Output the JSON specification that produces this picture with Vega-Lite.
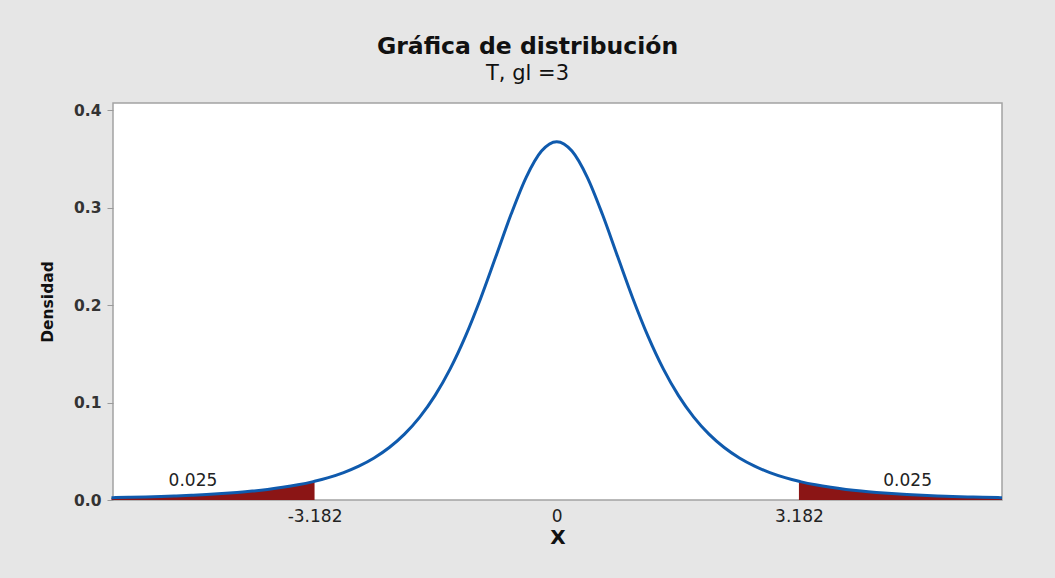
{
  "$schema": "https://vega.github.io/schema/vega-lite/v6.json",
  "width": 889,
  "height": 397,
  "autosize": {"type": "none"},
  "padding": {"left": 113, "top": 103, "right": 53, "bottom": 78},
  "background": "#e6e6e6",
  "config": {"view": {"fill": "white", "stroke": "#a3a3a3", "strokeWidth": 1.5}},
  "title": {
    "text": "Gráfica de distribución",
    "subtitle": "T, gl =3",
    "anchor": "middle",
    "dx": -30,
    "font": "DejaVu Sans",
    "fontSize": 23.5,
    "fontWeight": "bold",
    "color": "#111111",
    "subtitleFont": "DejaVu Sans",
    "subtitleFontSize": 21,
    "subtitleFontWeight": "normal",
    "subtitleColor": "#111111",
    "subtitlePadding": 5,
    "offset": 19
  },
  "datasets": {
    "curve": [
      {"x": -5.85, "d": 0.00239, "region": "left"},
      {"x": -5.8, "d": 0.00246, "region": "left"},
      {"x": -5.6, "d": 0.0028, "region": "left"},
      {"x": -5.4, "d": 0.0032, "region": "left"},
      {"x": -5.2, "d": 0.00367, "region": "left"},
      {"x": -5.0, "d": 0.00422, "region": "left"},
      {"x": -4.8, "d": 0.00488, "region": "left"},
      {"x": -4.6, "d": 0.00567, "region": "left"},
      {"x": -4.4, "d": 0.00662, "region": "left"},
      {"x": -4.2, "d": 0.00777, "region": "left"},
      {"x": -4.0, "d": 0.00916, "region": "left"},
      {"x": -3.8, "d": 0.01088, "region": "left"},
      {"x": -3.6, "d": 0.01299, "region": "left"},
      {"x": -3.4, "d": 0.0156, "region": "left"},
      {"x": -3.2, "d": 0.01887, "region": "left"},
      {"x": -3.182, "d": 0.0192, "region": "left"},
      {"x": -3.0, "d": 0.02297, "region": "centro"},
      {"x": -2.8, "d": 0.02815, "region": "centro"},
      {"x": -2.6, "d": 0.03473, "region": "centro"},
      {"x": -2.4, "d": 0.04311, "region": "centro"},
      {"x": -2.2, "d": 0.05382, "region": "centro"},
      {"x": -2.0, "d": 0.06751, "region": "centro"},
      {"x": -1.8, "d": 0.08496, "region": "centro"},
      {"x": -1.6, "d": 0.10701, "region": "centro"},
      {"x": -1.4, "d": 0.13446, "region": "centro"},
      {"x": -1.2, "d": 0.1678, "region": "centro"},
      {"x": -1.0, "d": 0.20675, "region": "centro"},
      {"x": -0.8, "d": 0.24967, "region": "centro"},
      {"x": -0.6, "d": 0.29301, "region": "centro"},
      {"x": -0.4, "d": 0.33127, "region": "centro"},
      {"x": -0.2, "d": 0.35794, "region": "centro"},
      {"x": 0.0, "d": 0.36755, "region": "centro"},
      {"x": 0.2, "d": 0.35794, "region": "centro"},
      {"x": 0.4, "d": 0.33127, "region": "centro"},
      {"x": 0.6, "d": 0.29301, "region": "centro"},
      {"x": 0.8, "d": 0.24967, "region": "centro"},
      {"x": 1.0, "d": 0.20675, "region": "centro"},
      {"x": 1.2, "d": 0.1678, "region": "centro"},
      {"x": 1.4, "d": 0.13446, "region": "centro"},
      {"x": 1.6, "d": 0.10701, "region": "centro"},
      {"x": 1.8, "d": 0.08496, "region": "centro"},
      {"x": 2.0, "d": 0.06751, "region": "centro"},
      {"x": 2.2, "d": 0.05382, "region": "centro"},
      {"x": 2.4, "d": 0.04311, "region": "centro"},
      {"x": 2.6, "d": 0.03473, "region": "centro"},
      {"x": 2.8, "d": 0.02815, "region": "centro"},
      {"x": 3.0, "d": 0.02297, "region": "centro"},
      {"x": 3.182, "d": 0.0192, "region": "right"},
      {"x": 3.2, "d": 0.01887, "region": "right"},
      {"x": 3.4, "d": 0.0156, "region": "right"},
      {"x": 3.6, "d": 0.01299, "region": "right"},
      {"x": 3.8, "d": 0.01088, "region": "right"},
      {"x": 4.0, "d": 0.00916, "region": "right"},
      {"x": 4.2, "d": 0.00777, "region": "right"},
      {"x": 4.4, "d": 0.00662, "region": "right"},
      {"x": 4.6, "d": 0.00567, "region": "right"},
      {"x": 4.8, "d": 0.00488, "region": "right"},
      {"x": 5.0, "d": 0.00422, "region": "right"},
      {"x": 5.2, "d": 0.00367, "region": "right"},
      {"x": 5.4, "d": 0.0032, "region": "right"},
      {"x": 5.6, "d": 0.0028, "region": "right"},
      {"x": 5.8, "d": 0.00246, "region": "right"},
      {"x": 5.85, "d": 0.00239, "region": "right"}
    ],
    "labels": [
      {"x": -4.78, "d": 0.0144, "label": "0.025"},
      {"x": 4.61, "d": 0.0144, "label": "0.025"}
    ]
  },
  "layer": [
    {
      "data": {"name": "curve"},
      "transform": [{"filter": "datum.region !== 'centro'"}],
      "mark": {"type": "area", "color": "#8b1515", "interpolate": "monotone"},
      "encoding": {
        "x": {
          "field": "x", "type": "quantitative",
          "scale": {"domain": [-5.83, 5.85], "nice": false, "zero": false},
          "axis": {
            "values": [-3.182, 0, 3.182],
            "labelExpr": "datum.value == 0 ? '0' : (datum.value < 0 ? '-3.182' : '3.182')",
            "ticks": false, "grid": false, "domain": false,
            "labelFont": "DejaVu Sans", "labelFontSize": 17, "labelColor": "#222222",
            "labelPadding": 8,
            "title": "X", "titleFont": "DejaVu Sans", "titleFontSize": 20, "titleFontWeight": "bold",
            "titleColor": "#111111", "titlePadding": 3
          }
        },
        "y": {
          "field": "d", "type": "quantitative", "stack": null,
          "scale": {"domain": [0, 0.4072], "nice": false},
          "axis": {
            "values": [0, 0.1, 0.2, 0.3, 0.4], "format": ".1f",
            "grid": false, "domain": false,
            "tickColor": "#9a9a9a", "tickSize": 6,
            "labelFont": "DejaVu Sans", "labelFontSize": 15.5, "labelFontWeight": "bold", "labelColor": "#333333",
            "labelPadding": 6,
            "title": "Densidad", "titleFont": "DejaVu Sans", "titleFontSize": 15.5, "titleFontWeight": "bold",
            "titleColor": "#111111", "titlePadding": 18
          }
        },
        "detail": {"field": "region"}
      }
    },
    {
      "data": {"name": "curve"},
      "mark": {"type": "line", "color": "#0f5aad", "strokeWidth": 3, "interpolate": "monotone"},
      "encoding": {
        "x": {"field": "x", "type": "quantitative", "sort": null},
        "y": {"field": "d", "type": "quantitative"}
      }
    },
    {
      "data": {"name": "labels"},
      "mark": {"type": "text", "baseline": "alphabetic", "align": "center", "font": "DejaVu Sans", "fontSize": 17, "color": "#222222"},
      "encoding": {
        "x": {"field": "x", "type": "quantitative"},
        "y": {"field": "d", "type": "quantitative"},
        "text": {"field": "label"}
      }
    }
  ]
}
